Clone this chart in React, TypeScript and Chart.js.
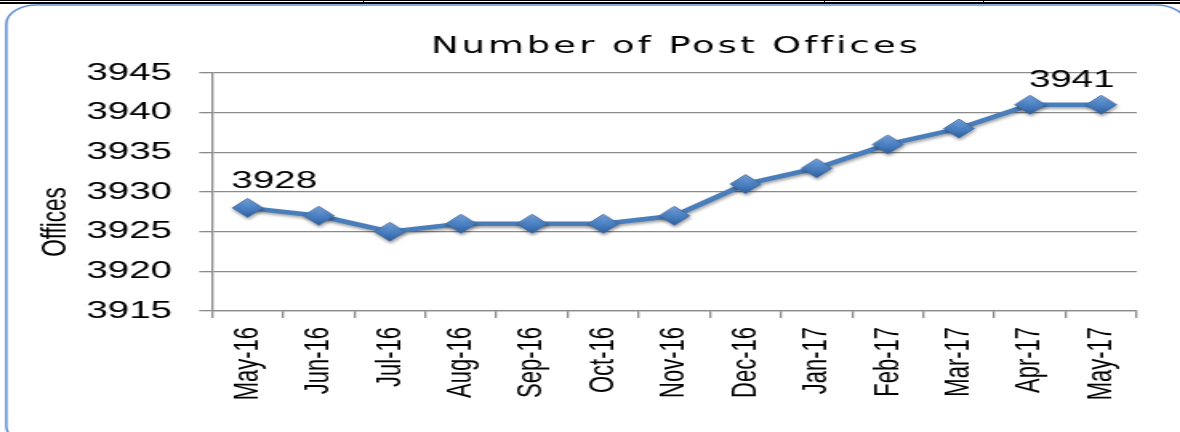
import React, { useEffect, useRef } from "react";
import { Chart, registerables } from "chart.js";

Chart.register(...registerables);

// ---- data ----
const categories = [
  "May-16", "Jun-16", "Jul-16", "Aug-16", "Sep-16", "Oct-16", "Nov-16",
  "Dec-16", "Jan-17", "Feb-17", "Mar-17", "Apr-17", "May-17",
];
const offices = [3928, 3927, 3925, 3926, 3926, 3926, 3927, 3931, 3933, 3936, 3938, 3941, 3941];
const yTickMin = 3915;
const yTickMax = 3945;
const yTickStep = 5;
const labeledIndexes = [0, 11];
const chartTitle = "Number of Post Offices";
const yAxisTitle = "Offices";

// ---- drawing setup (canvas is drawn narrow and stretched horizontally like the source) ----
const CW = 737;
const CH = 432;
const SW = 1180;
const FONT = "'Liberation Sans', Arial, sans-serif";
const TITLE_FONT = "'DejaVu Sans', 'Liberation Sans', sans-serif";
const LINE_BLUE = "#4A7EBB";
const GRID = "#8a8a8a";

const framePlugin = {
  id: "frame",
  beforeDraw(chart: any) {
    const ctx = chart.ctx;
    ctx.save();
    ctx.fillStyle = "#ffffff";
    ctx.fillRect(0, 0, chart.width, chart.height);
    ctx.strokeStyle = "#5B8FD8";
    ctx.lineWidth = 1.5;
    ctx.beginPath();
    (ctx as any).roundRect(3.9, 5, 737, 440, 19);
    ctx.stroke();
    ctx.restore();
  },
};

const shadowPlugin = {
  id: "shadow",
  beforeDatasetDraw(chart: any) {
    const ctx = chart.ctx;
    ctx.save();
    ctx.shadowColor = "rgba(0,0,0,0.35)";
    ctx.shadowBlur = 3;
    ctx.shadowOffsetX = 0.5;
    ctx.shadowOffsetY = 2;
  },
  afterDatasetDraw(chart: any) {
    chart.ctx.restore();
  },
};

const textPlugin = {
  id: "texts",
  afterDraw(chart: any) {
    const ctx = chart.ctx;
    const area = chart.chartArea;
    ctx.save();
    // title
    ctx.fillStyle = "#000";
    ctx.font = `23px ${TITLE_FONT}`;
    const spacing = 1.9;
    (ctx as any).letterSpacing = spacing + "px";
    ctx.textAlign = "left";
    ctx.textBaseline = "alphabetic";
    const tw = ctx.measureText(chartTitle).width - spacing;
    ctx.fillText(chartTitle, (area.left + area.right) / 2 - tw / 2, 53);
    (ctx as any).letterSpacing = "0px";

    // y axis title
    ctx.save();
    ctx.translate(34.4, 222);
    ctx.rotate(-Math.PI / 2);
    ctx.font = `22.5px ${FONT}`;
    ctx.textAlign = "center";
    ctx.textBaseline = "middle";
    ctx.fillText(yAxisTitle, 0, 0);
    ctx.restore();

    // data labels
    const meta = chart.getDatasetMeta(0);
    const offsets: Record<number, [number, number]> = { 0: [-10, -20], 11: [-0.7, -18] };
    ctx.font = `24px ${FONT}`;
    ctx.textAlign = "left";
    ctx.textBaseline = "alphabetic";
    labeledIndexes.forEach((i) => {
      const p = meta.data[i];
      if (!p) return;
      const [dx, dy] = offsets[i] || [0, -18];
      ctx.fillText(String(offices[i]), p.x + dx, p.y + dy);
    });
    ctx.restore();
  },
};

export default function App() {
  const ref = useRef<HTMLCanvasElement | null>(null);

  useEffect(() => {
    const canvas = ref.current;
    if (!canvas) return;
    const chart = new Chart(canvas, {
      type: "line",
      data: {
        labels: categories,
        datasets: [
          {
            label: "Offices",
            data: offices,
            borderColor: LINE_BLUE,
            borderWidth: 4.5,
            tension: 0,
            pointStyle: "rectRot",
            pointRadius: 9.5,
            pointHoverRadius: 9.5,
            pointBorderWidth: 0.8,
            pointBorderColor: "#3d6aa6",
            pointBackgroundColor: (c: any) => {
              const ys = c.chart.scales && c.chart.scales.y;
              if (!ys || c.raw == null) return LINE_BLUE;
              const y = ys.getPixelForValue(c.raw);
              if (!Number.isFinite(y)) return LINE_BLUE;
              const g = c.chart.ctx.createLinearGradient(0, y - 9.5, 0, y + 9.5);
              g.addColorStop(0, "#7fa9e0");
              g.addColorStop(0.45, "#4f86c9");
              g.addColorStop(1, "#2f5f9e");
              return g;
            },
          },
        ],
      },
      options: {
        responsive: false,
        animation: false,
        devicePixelRatio: 1,
        layout: { padding: { left: 0, right: 27, top: 73, bottom: 0 } },
        plugins: {
          legend: { display: false },
          title: { display: false },
          tooltip: { enabled: false },
        },
        scales: {
          x: {
            type: "category",
            offset: true,
            afterFit: (s: any) => {
              s.height = 121;
            },
            grid: {
              offset: true,
              drawOnChartArea: false,
              drawTicks: true,
              tickLength: 7,
              color: GRID,
              lineWidth: 1.3,
            },
            border: { color: GRID, width: 1.3 },
            ticks: {
              minRotation: 90,
              maxRotation: 90,
              autoSkip: false,
              padding: 9,
              color: "#000",
              font: { family: FONT, size: 22 },
            },
          },
          y: {
            min: yTickMin,
            max: yTickMax,
            afterFit: (s: any) => {
              s.width = 132.4;
            },
            grid: {
              color: GRID,
              lineWidth: 1.3,
              tickLength: 8,
              drawTicks: true,
            },
            border: { color: GRID, width: 1.3 },
            ticks: {
              stepSize: yTickStep,
              padding: 17,
              color: "#000",
              font: { family: FONT, size: 24 },
              callback: (v: any) => String(v),
            },
          },
        },
      },
      plugins: [framePlugin, shadowPlugin, textPlugin],
    } as any);
    return () => chart.destroy();
  }, []);

  const gaps = [363, 824, 983];
  return (
    <div style={{ position: "absolute", left: 0, top: 0, width: SW, height: CH, overflow: "hidden", background: "#fff" }}>
      <canvas
        ref={ref}
        width={CW}
        height={CH}
        style={{ width: SW + "px", height: CH + "px", display: "block" }}
      />
      <div style={{ position: "absolute", left: 0, top: 0, width: SW, height: 1, background: "#000" }} />
      <div style={{ position: "absolute", left: 0, top: 2, width: SW, height: 2, background: "#000" }} />
      {gaps.map((x) => (
        <div key={x} style={{ position: "absolute", left: x, top: 0, width: 1, height: 4, background: "#000" }} />
      ))}
    </div>
  );
}
